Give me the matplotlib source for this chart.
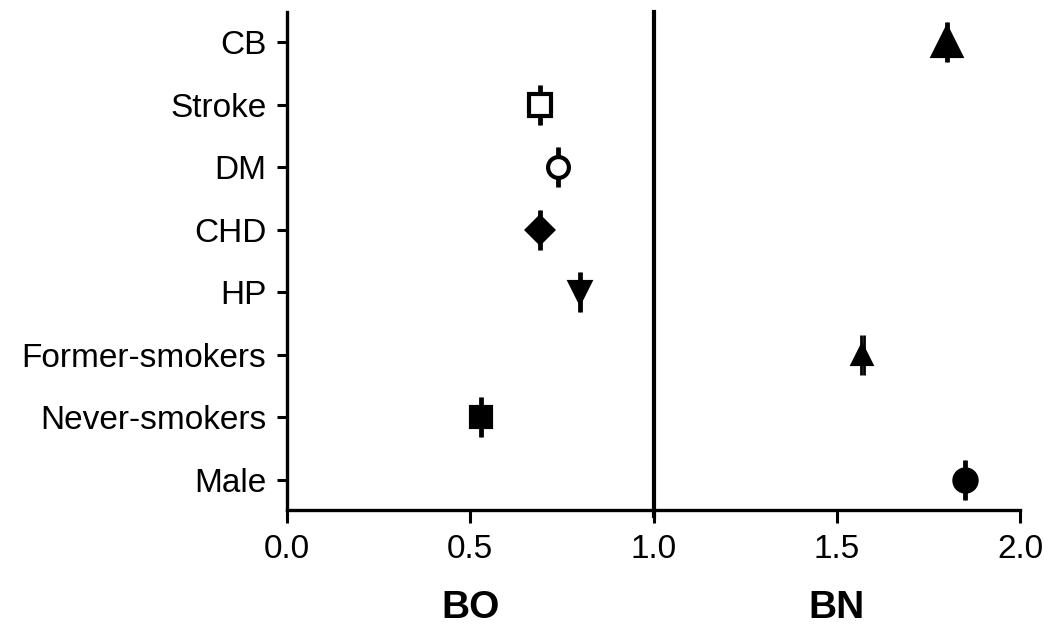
import matplotlib
matplotlib.use('Agg')
import matplotlib.pyplot as plt

# data (odds ratios, tiny CIs)
categories = ['Male', 'Never-smokers', 'Former-smokers', 'HP', 'CHD', 'DM', 'Stroke', 'CB']
ratios = [1.85, 0.53, 1.57, 0.80, 0.69, 0.74, 0.69, 1.80]
ci_low = [1.847, 0.527, 1.567, 0.797, 0.687, 0.737, 0.687, 1.797]
ci_high = [1.853, 0.533, 1.573, 0.803, 0.693, 0.743, 0.693, 1.803]
markers = ['o', 's', '^', 'v', 'D', 'o', 's', '^']
sizes = [16, 15, 13, 15, 13, 15, 16, 20]
filled = [True, True, True, True, True, False, False, True]
xticks = [0.0, 0.5, 1.0, 1.5, 2.0]
group_labels = ['BO', 'BN']
group_pos = [0.5, 1.5]

plt.rcParams['font.family'] = ['Liberation Sans', 'DejaVu Sans']

fig = plt.figure(figsize=(10.44, 6.3), dpi=100)
ax = fig.add_axes([0.275, 0.1905, 0.702, 0.79])

for i, cat in enumerate(categories):
    x = ratios[i]
    err = [[x - ci_low[i]], [ci_high[i] - x]]
    ax.errorbar([x], [i], xerr=err, fmt='none', ecolor='black', elinewidth=2,
                capsize=14.5, capthick=2, zorder=2)
    ax.plot([x], [i], marker=markers[i], markersize=sizes[i], linestyle='none',
            markerfacecolor='black' if filled[i] else 'white',
            markeredgecolor='black', markeredgewidth=3, zorder=3)

ax.axvline(1.0, color='black', lw=3, ymin=-0.012, clip_on=False, zorder=1)

ax.set_xlim(0, 2.0)
ax.set_ylim(-0.48, 7.48)
ax.set_yticks(range(len(categories)))
ax.set_yticklabels(categories)
ax.set_xticks(xticks)
ax.set_xticklabels([f'{t:.1f}' for t in xticks])

for s in ['top', 'right']:
    ax.spines[s].set_visible(False)
for s in ['left', 'bottom']:
    ax.spines[s].set_linewidth(2.4)
ax.tick_params(axis='x', length=9, width=2.2, labelsize=24, pad=8)
ax.tick_params(axis='y', length=7, width=2.2, labelsize=24, pad=8)

for lab, px in zip(group_labels, group_pos):
    ax.text(px, -0.197, lab, transform=ax.get_xaxis_transform(), ha='center', va='center',
            fontsize=28, fontweight='bold')

plt.savefig('out.png', dpi=100)
plt.close()
